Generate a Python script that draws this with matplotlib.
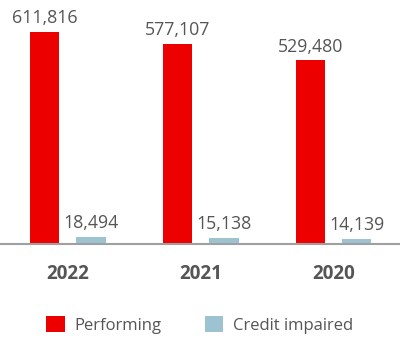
import matplotlib
matplotlib.use('Agg')
import matplotlib.pyplot as plt
import numpy as np

# Data ===========================================
years = ['2022', '2021', '2020']
performing = [611816, 577107, 529480]
credit_impaired = [18494, 15138, 14139]

red = '#EC0000'
blue = '#9DC3D3'
grey = '#555555'

plt.rcParams['font.family'] = ['Open Sans', 'DejaVu Sans']

fig = plt.figure(figsize=(4, 3.4), dpi=100)
ax = fig.add_axes([0, 96.5 / 340, 1, 243.5 / 340])

x = np.arange(len(years))
w = 0.22
off = 0.175
b1 = ax.bar(x - off, performing, w, color=red, label='Performing')
b2 = ax.bar(x + off, credit_impaired, w, color=blue, label='Credit impaired')

# value labels above each bar
for bars, vals in [(b1, performing), (b2, credit_impaired)]:
    for rect, v in zip(bars, vals):
        ax.text(rect.get_x() + rect.get_width() / 2, v + 14000, f'{v:,}',
                ha='center', va='bottom', fontsize=12.8, color=grey)

ax.set_xlim(-0.51, 2.5)
ax.set_ylim(0, 611816 * 243.5 / 211.5)
ax.set_xticks(x)
ax.set_xticklabels(years, fontsize=13.5, fontweight='bold', color=grey)
ax.tick_params(axis='x', length=0, pad=15)
ax.set_yticks([])
for s in ['top', 'right', 'left']:
    ax.spines[s].set_visible(False)
ax.spines['bottom'].set_color('#A0A0A0')
ax.spines['bottom'].set_linewidth(1.5)

fig.legend(handles=[b1, b2], loc='center', bbox_to_anchor=(0.5, 15 / 340),
           ncol=2, frameon=False, fontsize=12, labelcolor=grey,
           handlelength=1.1, handleheight=1.1, handletextpad=0.6, columnspacing=2.6)

fig.savefig('out.png', dpi=100)
